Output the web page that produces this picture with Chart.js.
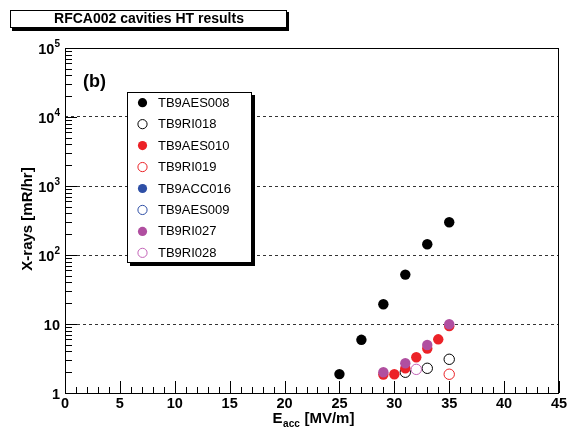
<!DOCTYPE html>
<html>
<head>
<meta charset="utf-8">
<script src="https://cdn.jsdelivr.net/npm/chart.js@4.4.0/dist/chart.umd.min.js"></script>
<style>
body{margin:0;background:#fff;}
#wrap{width:571px;height:428px;}
</style>
</head>
<body>
<div id="wrap"><canvas id="c" width="571" height="428"></canvas></div>
<script>
// series names, in legend order
const names = ["TB9AES008","TB9RI018","TB9AES010","TB9RI019","TB9ACC016","TB9AES009","TB9RI027","TB9RI028"];
const colors = ["#000000","#000000","#ec2227","#ec2227","#2e4fa6","#2e4fa6","#b04fa0","#c464b8"];
const filled = [true,false,true,false,true,false,true,false];

// Eacc [MV/m] and X-rays [mR/hr]
const eacc = [
[25,27,29,31,33,35],
[31,33,35],
[29,30,31,32,33,34,35],
[35],
[],
[],
[29,31,33,35],
[32]
];
const xrays = [
[1.88,5.9,19.3,52,143,298],
[2.0,2.28,3.08],
[1.85,1.87,2.28,3.3,4.4,6.0,9.3],
[1.87],
[],
[],
[2.0,2.7,4.96,9.9],
[2.2]
];

const xTicks = [0,5,10,15,20,25,30,35,40,45];
const xMinor = [0,1,2,3,4,5,6,7,8,9,10,11,12,13,14,15,16,17,18,19,20,21,22,23,24,25,26,27,28,29,30,31,32,33,34,35,36,37,38,39,40,41,42,43,44,45];
const yTicks = [1,10,100,1000,10000,100000];
const yTickBase = ["1","10","10","10","10","10"];
const yTickExp = ["","","2","3","4","5"];

const datasets = names.map((n,i)=>({
label:n,
data:eacc[i].map((x,j)=>({x:x,y:xrays[i][j]})),
pointStyle:"circle",
pointRadius:5.2,
pointBorderWidth:filled[i]?0:1,
pointBackgroundColor:filled[i]?colors[i]:"rgba(0,0,0,0)",
pointBorderColor:colors[i],
showLine:false,
order:names.length-i
}));

const FONT = "'Liberation Sans', Arial, sans-serif";

const decor = {
id:"decor",
beforeDraw(chart){
const c = chart.ctx;
c.save();
c.fillStyle="#fff";
c.fillRect(0,0,chart.width,chart.height);
c.restore();
},
afterDraw(chart){
const c = chart.ctx;
const a = chart.chartArea;
const xs = chart.scales.x, ys = chart.scales.y;
c.save();
c.strokeStyle="#000";
c.lineWidth=1;

// frame
c.strokeRect(a.left+0.5,a.top+0.5,a.right-a.left-1,a.bottom-a.top);

// x ticks
c.beginPath();
xMinor.forEach(v=>{
let px = Math.round(xs.getPixelForValue(v))+0.5;
let len = xTicks.includes(v)?12:6;
c.moveTo(px,a.bottom);
c.lineTo(px,a.bottom-len);
});
// y ticks
for(let d=0; d<yTicks.length-1; d++){
for(let m=1;m<=9;m++){
let v = yTicks[d]*m;
let py = Math.round(ys.getPixelForValue(v))+0.5;
let len = m==1?12:7;
c.moveTo(a.left,py);
c.lineTo(a.left+len,py);
}
}
c.stroke();

// x tick labels
c.fillStyle="#000";
c.font="bold 14.5px "+FONT;
c.textAlign="center";
c.textBaseline="alphabetic";
xTicks.forEach(v=>{
c.fillText(String(v),xs.getPixelForValue(v),408);
});

// y tick labels
yTicks.forEach((v,i)=>{
let py = ys.getPixelForValue(v);
let right = 60;
if(yTickExp[i]){
c.font="bold 10px "+FONT;
c.textAlign="right";
let ew = c.measureText(yTickExp[i]).width;
c.fillText(yTickExp[i],right,py-1);
c.font="bold 14.5px "+FONT;
c.fillText(yTickBase[i],right-ew,py+6);
}else{
c.font="bold 14.5px "+FONT;
c.textAlign="right";
c.fillText(yTickBase[i],right,py+6);
}
});

// y title
c.save();
c.translate(32,219);
c.rotate(-Math.PI/2);
c.font="bold 15px "+FONT;
c.textAlign="center";
c.fillText("X-rays [mR/hr]",0,0);
c.restore();

// x title with subscript
c.textAlign="left";
c.font="bold 15px "+FONT;
let t1="E", t2="acc", t3=" [MV/m]";
let w1=c.measureText(t1).width, w3=c.measureText(t3).width;
c.font="bold 10px "+FONT;
let w2=c.measureText(t2).width;
let x0 = 313-(w1+w2+w3)/2;
c.font="bold 15px "+FONT;
c.fillText(t1,x0,423);
c.font="bold 10px "+FONT;
c.fillText(t2,x0+w1+0.5,427);
c.font="bold 15px "+FONT;
c.fillText(t3,x0+w1+w2+1,423);

// (b)
c.font="bold 18px "+FONT;
c.textAlign="left";
c.fillText("(b)",83,87);

// title box
c.fillStyle="#000";
c.fillRect(12,12,277,19);
c.fillStyle="#fff";
c.fillRect(10,10,277,18);
c.strokeRect(10.5,10.5,276,17);
c.fillStyle="#000";
c.font="bold 14px "+FONT;
c.textAlign="center";
c.textBaseline="middle";
c.fillText("RFCA002 cavities HT results",149,19.5);

// legend box
const lx=127, ly=92, lw=125, lh=171;
c.fillStyle="#000";
c.fillRect(lx+3,ly+3,lw,lh);
c.fillStyle="#fff";
c.fillRect(lx,ly,lw,lh);
c.strokeRect(lx+0.5,ly+0.5,lw-1,lh-1);
c.font="13px "+FONT;
c.textAlign="left";
c.textBaseline="middle";
chart.data.datasets.forEach((ds,i)=>{
let y = 102.7+i*21.45;
c.beginPath();
c.arc(142.5,y,4.6,0,Math.PI*2);
if(filled[i]){
c.fillStyle=colors[i];
c.fill();
}else{
c.strokeStyle=colors[i];
c.lineWidth=1;
c.stroke();
}
c.fillStyle="#000";
c.fillText(ds.label,158,y+0.5);
});
c.restore();
}
};

new Chart(document.getElementById("c"),{
type:"scatter",
data:{datasets:datasets},
options:{
responsive:false,
animation:false,
layout:{padding:{left:65,top:48,right:12,bottom:35}},
plugins:{legend:{display:false},tooltip:{enabled:false}},
scales:{
x:{
type:"linear",
min:0,max:45,
ticks:{display:false},
grid:{display:false,drawTicks:false},
border:{display:false}
},
y:{
type:"logarithmic",
min:1,max:100000,
ticks:{display:false},
grid:{
drawTicks:false,
lineWidth:1,
color:(ctx)=>{
let v = ctx.tick ? ctx.tick.value : 0;
let l = Math.log10(v);
return (Math.abs(l-Math.round(l))<1e-9 && v>1 && v<100000) ? "#333" : "rgba(0,0,0,0)";
}
},
border:{display:false,dash:[3,3]}
}
}
},
plugins:[decor]
});
</script>
</body>
</html>
